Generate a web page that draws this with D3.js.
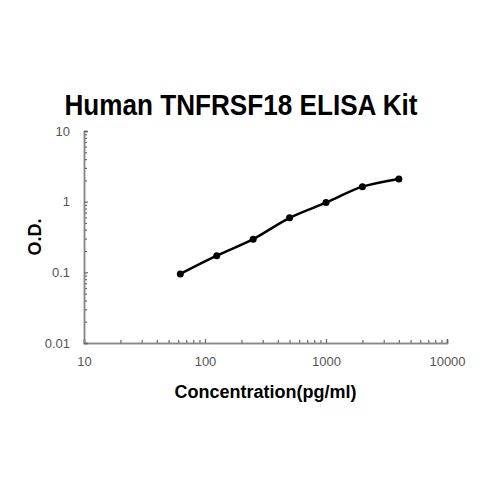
<!DOCTYPE html>
<html>
<head>
<meta charset="utf-8">
<script src="https://cdn.jsdelivr.net/npm/d3@7"></script>
<style>
  body { margin: 0; background: #fff; }
  svg { display: block; }
</style>
</head>
<body>
<svg id="chart" width="480" height="480"></svg>
<script>
// standard curve readings
var concentration = [62.5, 125, 250, 500, 1000, 2000, 4000];
var od = [0.095, 0.172, 0.295, 0.59, 0.97, 1.63, 2.1];
var xTicks = [10, 100, 1000, 10000];
var yTicks = [0.01, 0.1, 1, 10];
var yTickLabels = ['0.01', '0.1', '1', '10'];

var svg = d3.select('#chart');
var margin = { left: 84, right: 33, top: 131, bottom: 137 };
var W = 480, H = 480;

var x = d3.scaleLog().domain([10, 10000]).range([margin.left, W - margin.right]);
var y = d3.scaleLog().domain([0.01, 10]).range([H - margin.bottom, margin.top]);

svg.append('rect').attr('width', W).attr('height', H).attr('fill', '#fff');

// title (the source image is a little stretched vertically)
svg.append('text')
  .attr('x', 0).attr('y', 0)
  .attr('text-anchor', 'middle')
  .attr('font-family', 'Liberation Sans, Arial, sans-serif')
  .attr('font-weight', 'bold')
  .attr('font-size', 24)
  .attr('transform', 'translate(241,115) scale(1,1.22)')
  .attr('textLength', 353)
  .attr('lengthAdjust', 'spacingAndGlyphs')
  .text('Human TNFRSF18 ELISA Kit');

// minor ticks (inside), no labels
var xMinor = x.ticks().filter(function(d) { return xTicks.indexOf(d) < 0; });
var yMinor = y.ticks().filter(function(d) { return yTicks.indexOf(d) < 0; });

var gx = svg.append('g').attr('transform', 'translate(0,' + y(0.01) + ')');
gx.call(d3.axisBottom(x).tickValues(xMinor).tickSize(-3).tickFormat(''));
gx.append('g').call(d3.axisBottom(x).tickValues(xTicks).tickSize(-4).tickPadding(14)
  .tickFormat(d3.format('d')));

var gy = svg.append('g').attr('transform', 'translate(' + x(10) + ',0)');
gy.call(d3.axisLeft(y).tickValues(yMinor).tickSize(-3).tickFormat(''));
gy.append('g').call(d3.axisLeft(y).tickValues(yTicks).tickSize(-4).tickPadding(14)
  .tickFormat(function(d, i) { return yTickLabels[i]; }));

svg.selectAll('.domain').attr('stroke', '#888').attr('stroke-width', 1.5);
svg.selectAll('.tick line').attr('stroke', '#666').attr('stroke-width', 1.2);
svg.selectAll('.tick text')
  .attr('fill', '#555')
  .attr('font-size', 13)
  .attr('font-family', 'Liberation Sans, Arial, sans-serif');

// axis titles
svg.append('text')
  .attr('x', (x.range()[0] + x.range()[1]) / 2).attr('y', 398)
  .attr('text-anchor', 'middle')
  .attr('font-family', 'Liberation Sans, Arial, sans-serif')
  .attr('font-weight', 'bold')
  .attr('font-size', 18)
  .text('Concentration(pg/ml)');

svg.append('text')
  .attr('transform', 'translate(41,237) rotate(-90)')
  .attr('text-anchor', 'middle')
  .attr('font-family', 'Liberation Sans, Arial, sans-serif')
  .attr('font-weight', 'bold')
  .attr('font-size', 18)
  .text('O.D.');

// curve
var pts = concentration.map(function(c, i) { return [c, od[i]]; });
var line = d3.line()
  .x(function(d) { return x(d[0]); })
  .y(function(d) { return y(d[1]); })
  .curve(d3.curveCatmullRom.alpha(0.5));

svg.append('path')
  .datum(pts)
  .attr('d', line)
  .attr('fill', 'none')
  .attr('stroke', '#000')
  .attr('stroke-width', 2.5);

svg.selectAll('circle.pt')
  .data(pts)
  .enter().append('circle')
  .attr('class', 'pt')
  .attr('cx', function(d) { return x(d[0]); })
  .attr('cy', function(d) { return y(d[1]); })
  .attr('r', 3.5)
  .attr('fill', '#000');
</script>
</body>
</html>
